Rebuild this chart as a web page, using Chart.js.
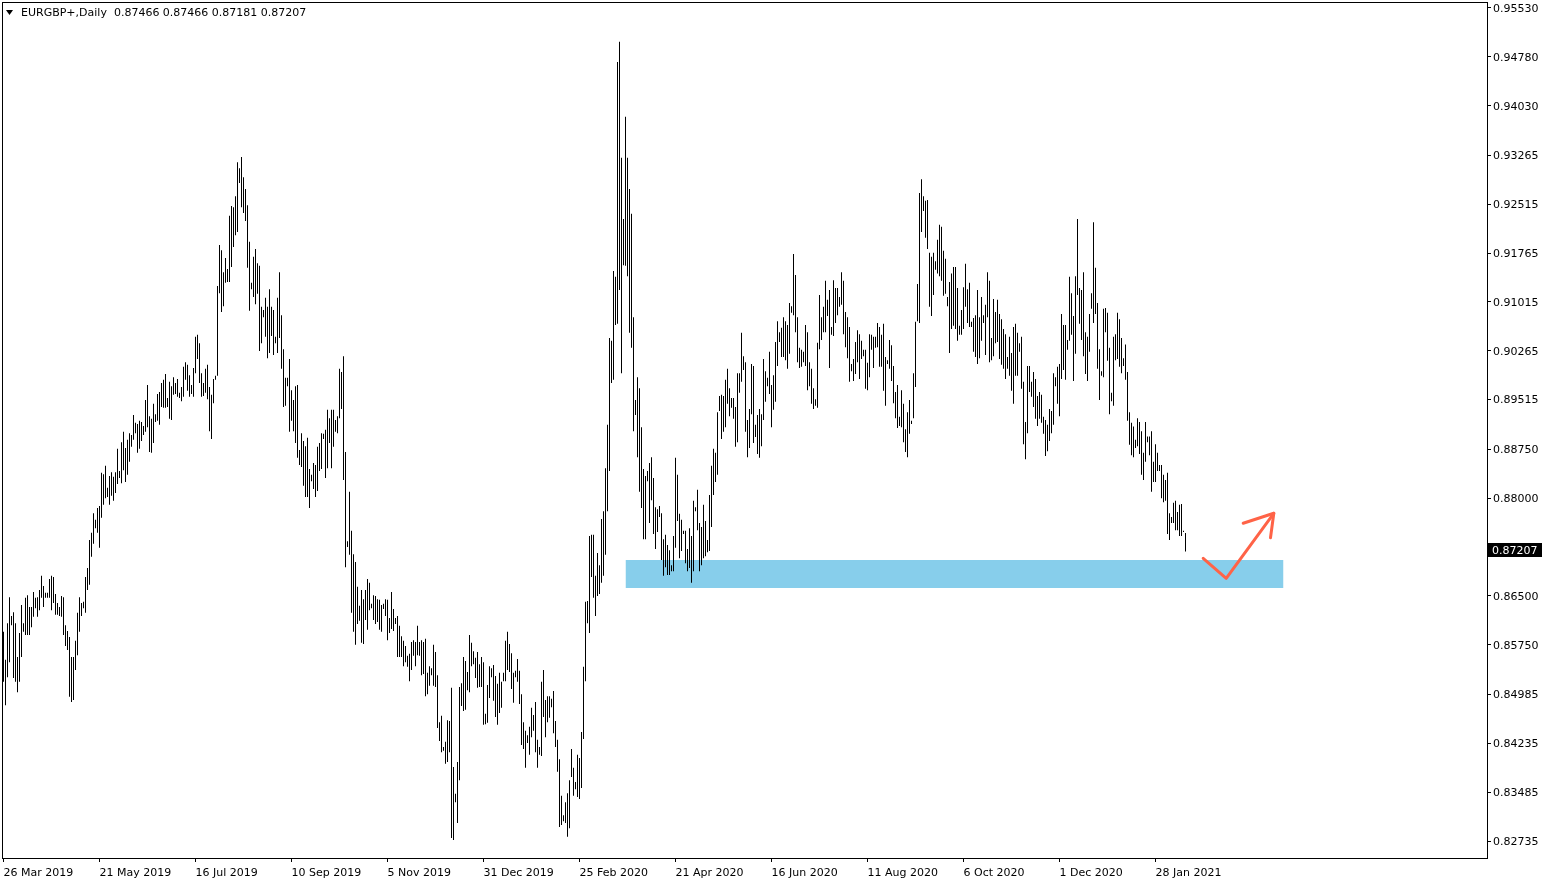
<!DOCTYPE html>
<html>
<head>
<meta charset="utf-8">
<title>EURGBP+,Daily</title>
<script src="https://cdn.jsdelivr.net/npm/chart.js@4.4.0/dist/chart.umd.min.js"></script>
<style>
  html, body { margin: 0; padding: 0; background: #fff; }
</style>
</head>
<body>
<canvas id="chart" width="1550" height="884"></canvas>
<script>
// Daily highs and lows, one entry per bar (26 Mar 2019 onwards)
var highs = [
  0.8595, 0.8552, 0.8608, 0.8648, 0.8619, 0.8625, 0.8608, 0.8556, 0.8593, 0.8636,
  0.8608, 0.8647, 0.8651, 0.8633, 0.8633, 0.8656, 0.8647, 0.8648, 0.8659, 0.8681,
  0.8665, 0.8655, 0.8655, 0.8676, 0.8681, 0.8679, 0.8653, 0.8639, 0.8633, 0.8650,
  0.8648, 0.8605, 0.8596, 0.8587, 0.8556, 0.8556, 0.8581, 0.8624, 0.8648, 0.8639,
  0.8641, 0.8679, 0.8693, 0.8736, 0.8747, 0.8777, 0.8767, 0.8785, 0.8788, 0.8839,
  0.8837, 0.8850, 0.8816, 0.8834, 0.8840, 0.8833, 0.8840, 0.8876, 0.8842, 0.8886,
  0.8902, 0.8877, 0.8890, 0.8900, 0.8897, 0.8928, 0.8916, 0.8914, 0.8919, 0.8917,
  0.8911, 0.8951, 0.8974, 0.8926, 0.8922, 0.8945, 0.8929, 0.8960, 0.8963, 0.8977,
  0.8982, 0.8991, 0.8954, 0.8979, 0.8972, 0.8986, 0.8977, 0.8983, 0.8962, 0.8971,
  0.9002, 0.9009, 0.9005, 0.8989, 0.8974, 0.9000, 0.9048, 0.9051, 0.9038, 0.8992,
  0.8977, 0.8999, 0.9005, 0.8971, 0.8959, 0.8983, 0.8988, 0.9126, 0.9189, 0.9181,
  0.9147, 0.9169, 0.9152, 0.9234, 0.9249, 0.9247, 0.9264, 0.9316, 0.9307, 0.9324,
  0.9293, 0.9275, 0.9250, 0.9194, 0.9131, 0.9171, 0.9183, 0.9161, 0.9157, 0.9094,
  0.9089, 0.9108, 0.9094, 0.9121, 0.9094, 0.9089, 0.9048, 0.9108, 0.9147, 0.9081,
  0.9029, 0.8985, 0.8985, 0.9014, 0.8966, 0.8951, 0.8972, 0.8974, 0.8874, 0.8900,
  0.8888, 0.8880, 0.8893, 0.8845, 0.8836, 0.8854, 0.8851, 0.8879, 0.8885, 0.8900,
  0.8899, 0.8905, 0.8936, 0.8923, 0.8936, 0.8936, 0.8920, 0.8926, 0.8999, 0.8994,
  0.9018, 0.8871, 0.8734, 0.8810, 0.8750, 0.8714, 0.8702, 0.8664, 0.8635, 0.8659,
  0.8645, 0.8659, 0.8676, 0.8670, 0.8638, 0.8651, 0.8650, 0.8645, 0.8644, 0.8636,
  0.8638, 0.8645, 0.8644, 0.8616, 0.8656, 0.8630, 0.8616, 0.8619, 0.8604, 0.8588,
  0.8581, 0.8573, 0.8558, 0.8561, 0.8579, 0.8582, 0.8579, 0.8604, 0.8579, 0.8582,
  0.8579, 0.8584, 0.8532, 0.8542, 0.8539, 0.8575, 0.8564, 0.8528, 0.8456, 0.8466,
  0.8418, 0.8426, 0.8459, 0.8458, 0.8509, 0.8387, 0.8346, 0.8395, 0.8510, 0.8516,
  0.8556, 0.8550, 0.8533, 0.8590, 0.8578, 0.8565, 0.8555, 0.8564, 0.8545, 0.8556,
  0.8548, 0.8469, 0.8513, 0.8542, 0.8539, 0.8544, 0.8527, 0.8515, 0.8532, 0.8518,
  0.8532, 0.8581, 0.8595, 0.8576, 0.8562, 0.8532, 0.8535, 0.8553, 0.8535, 0.8499,
  0.8456, 0.8443, 0.8436, 0.8449, 0.8478, 0.8467, 0.8487, 0.8429, 0.8418, 0.8518,
  0.8536, 0.8490, 0.8496, 0.8496, 0.8492, 0.8504, 0.8458, 0.8429, 0.8399, 0.8343,
  0.8313, 0.8333, 0.8347, 0.8367, 0.8415, 0.8386, 0.8364, 0.8406, 0.8401, 0.8441,
  0.8541, 0.8641, 0.8642, 0.8742, 0.8744, 0.8744, 0.8681, 0.8716, 0.8697, 0.8768,
  0.8780, 0.8846, 0.8913, 0.9046, 0.9042, 0.9149, 0.9140, 0.9470, 0.9501, 0.9323,
  0.9229, 0.9386, 0.9323, 0.9275, 0.9237, 0.9078, 0.8951, 0.8986, 0.8969, 0.8909,
  0.8845, 0.8834, 0.8842, 0.8854, 0.8863, 0.8831, 0.8786, 0.8783, 0.8788, 0.8777,
  0.8737, 0.8744, 0.8728, 0.8720, 0.8697, 0.8742, 0.8862, 0.8836, 0.8776, 0.8767,
  0.8750, 0.8750, 0.8722, 0.8754, 0.8742, 0.8796, 0.8786, 0.8813, 0.8762, 0.8756,
  0.8790, 0.8765, 0.8736, 0.8805, 0.8850, 0.8876, 0.8870, 0.8932, 0.8957, 0.8959,
  0.8957, 0.8982, 0.8999, 0.8969, 0.8954, 0.8954, 0.8940, 0.8992, 0.8992, 0.9054,
  0.9018, 0.9009, 0.8920, 0.8937, 0.9006, 0.9003, 0.8913, 0.8928, 0.8937, 0.8929,
  0.9014, 0.8995, 0.8985, 0.9025, 0.8974, 0.8989, 0.9040, 0.9072, 0.9055, 0.9062,
  0.9078, 0.9072, 0.9066, 0.9100, 0.9095, 0.9175, 0.9143, 0.9078, 0.9031, 0.9028,
  0.9025, 0.9066, 0.9055, 0.9009, 0.8999, 0.8969, 0.8952, 0.9039, 0.9112, 0.9078,
  0.9094, 0.9134, 0.9105, 0.9120, 0.9063, 0.9135, 0.9123, 0.9123, 0.9109, 0.9147,
  0.9134, 0.9086, 0.9078, 0.9063, 0.9006, 0.9014, 0.9040, 0.9058, 0.9052, 0.9042,
  0.9028, 0.9028, 0.9008, 0.9052, 0.9051, 0.9048, 0.9048, 0.9069, 0.9063, 0.9051,
  0.9068, 0.9017, 0.9012, 0.9043, 0.9035, 0.9003, 0.8963, 0.8974, 0.8925, 0.8966,
  0.8945, 0.8906, 0.8932, 0.8951, 0.8919, 0.8992, 0.9071, 0.9129, 0.9269, 0.9290,
  0.9264, 0.9257, 0.9258, 0.9177, 0.9171, 0.9177, 0.9164, 0.9197, 0.9220, 0.9217,
  0.9180, 0.9168, 0.9109, 0.9132, 0.9145, 0.9155, 0.9155, 0.9123, 0.9065, 0.9089,
  0.9124, 0.9160, 0.9121, 0.9131, 0.9071, 0.9077, 0.9081, 0.9120, 0.9078, 0.9109,
  0.9081, 0.9097, 0.9147, 0.9134, 0.9046, 0.9106, 0.9086, 0.9105, 0.9083, 0.9075,
  0.9060, 0.9052, 0.9017, 0.9048, 0.9023, 0.9063, 0.9068, 0.9054, 0.9038, 0.9048,
  0.8979, 0.8917, 0.9003, 0.9003, 0.8979, 0.8994, 0.8983, 0.8957, 0.8963, 0.8959,
  0.8925, 0.8920, 0.8913, 0.8937, 0.8934, 0.8992, 0.8986, 0.9002, 0.9006, 0.9083,
  0.9066, 0.9066, 0.9043, 0.9140, 0.9115, 0.9080, 0.9141, 0.9229, 0.9123, 0.9120,
  0.9147, 0.9055, 0.9048, 0.9083, 0.9115, 0.9224, 0.9154, 0.9100, 0.9029, 0.8995,
  0.9091, 0.9092, 0.9085, 0.9031, 0.8962, 0.9048, 0.9052, 0.9085, 0.9075, 0.9046,
  0.9015, 0.9036, 0.8994, 0.8932, 0.8916, 0.8910, 0.8890, 0.8923, 0.8917, 0.8903,
  0.8870, 0.8917, 0.8895, 0.8895, 0.8903, 0.8856, 0.8883, 0.8870, 0.8851, 0.8851,
  0.8836, 0.8828, 0.8839, 0.8777, 0.8771, 0.8793, 0.8796, 0.8779, 0.8790, 0.8791,
  0.8750, 0.87466
];
var lows = [
  0.8518, 0.8482, 0.8525, 0.8548, 0.8605, 0.8524, 0.8518, 0.8502, 0.8518, 0.8556,
  0.8595, 0.8590, 0.8590, 0.8590, 0.8602, 0.8618, 0.8631, 0.8618, 0.8628, 0.8647,
  0.8633, 0.8647, 0.8647, 0.8647, 0.8628, 0.8639, 0.8621, 0.8621, 0.8619, 0.8618,
  0.8590, 0.8573, 0.8567, 0.8495, 0.8487, 0.8490, 0.8536, 0.8559, 0.8595, 0.8619,
  0.8631, 0.8624, 0.8659, 0.8667, 0.8710, 0.8730, 0.8754, 0.8747, 0.8724, 0.8770,
  0.8790, 0.8800, 0.8802, 0.8790, 0.8804, 0.8796, 0.8808, 0.8822, 0.8831, 0.8823,
  0.8843, 0.8825, 0.8836, 0.8856, 0.8879, 0.8890, 0.8900, 0.8870, 0.8876, 0.8888,
  0.8897, 0.8902, 0.8909, 0.8871, 0.8870, 0.8885, 0.8917, 0.8919, 0.8913, 0.8940,
  0.8939, 0.8939, 0.8940, 0.8922, 0.8920, 0.8959, 0.8960, 0.8956, 0.8954, 0.8949,
  0.8956, 0.8982, 0.8965, 0.8956, 0.8960, 0.8956, 0.8992, 0.9014, 0.8977, 0.8956,
  0.8957, 0.8962, 0.8952, 0.8903, 0.8891, 0.8946, 0.8982, 0.8988, 0.9115, 0.9086,
  0.9095, 0.9131, 0.9132, 0.9132, 0.9155, 0.9186, 0.9204, 0.9209, 0.9284, 0.9247,
  0.9238, 0.9226, 0.9154, 0.9088, 0.9121, 0.9109, 0.9098, 0.9114, 0.9026, 0.9038,
  0.9078, 0.9048, 0.9015, 0.9023, 0.9049, 0.9020, 0.9038, 0.9023, 0.9046, 0.8999,
  0.8940, 0.8942, 0.8972, 0.8902, 0.8919, 0.8903, 0.8885, 0.8862, 0.8851, 0.8848,
  0.8819, 0.8802, 0.8802, 0.8785, 0.8826, 0.8814, 0.8802, 0.8811, 0.8842, 0.8845,
  0.8891, 0.8831, 0.8846, 0.8885, 0.8846, 0.8879, 0.8902, 0.8900, 0.8923, 0.8937,
  0.8828, 0.8694, 0.8725, 0.8713, 0.8624, 0.8595, 0.8575, 0.8607, 0.8612, 0.8578,
  0.8576, 0.8613, 0.8598, 0.8628, 0.8631, 0.8613, 0.8607, 0.8610, 0.8598, 0.8595,
  0.8630, 0.8619, 0.8582, 0.8593, 0.8599, 0.8596, 0.8607, 0.8556, 0.8556, 0.8556,
  0.8542, 0.8548, 0.8541, 0.8519, 0.8536, 0.8558, 0.8542, 0.8559, 0.8558, 0.8528,
  0.8530, 0.8496, 0.8499, 0.8512, 0.8528, 0.8512, 0.8510, 0.8447, 0.8427, 0.8410,
  0.8412, 0.8392, 0.8395, 0.8410, 0.8278, 0.8275, 0.8333, 0.8301, 0.8367, 0.8481,
  0.8473, 0.8475, 0.8505, 0.8502, 0.8542, 0.8545, 0.8524, 0.8509, 0.8510, 0.8510,
  0.8452, 0.8453, 0.8455, 0.8493, 0.8525, 0.8489, 0.8464, 0.8452, 0.8470, 0.8478,
  0.8519, 0.8519, 0.8536, 0.8533, 0.8507, 0.8486, 0.8525, 0.8518, 0.8484, 0.8421,
  0.8415, 0.8386, 0.8424, 0.8406, 0.8433, 0.8443, 0.8410, 0.8386, 0.8406, 0.8404,
  0.8464, 0.8433, 0.8456, 0.8463, 0.8479, 0.8439, 0.8418, 0.8380, 0.8295, 0.8298,
  0.8304, 0.8301, 0.8280, 0.8293, 0.8372, 0.8343, 0.8353, 0.8341, 0.8338, 0.8355,
  0.8430, 0.8519, 0.8608, 0.8593, 0.8679, 0.8647, 0.8619, 0.8650, 0.8653, 0.8670,
  0.8681, 0.8713, 0.8780, 0.8842, 0.8977, 0.8982, 0.9066, 0.9068, 0.9120, 0.8992,
  0.9158, 0.9157, 0.9141, 0.9054, 0.9031, 0.8903, 0.8928, 0.8863, 0.8810, 0.8785,
  0.8737, 0.8737, 0.8826, 0.8762, 0.8797, 0.8745, 0.8722, 0.8748, 0.8771, 0.8705,
  0.8681, 0.8694, 0.8682, 0.8682, 0.8688, 0.8688, 0.8724, 0.8765, 0.8708, 0.8719,
  0.8745, 0.8700, 0.8688, 0.8693, 0.8670, 0.8688, 0.8780, 0.8751, 0.8688, 0.8697,
  0.8708, 0.8711, 0.8717, 0.8719, 0.8756, 0.8805, 0.8825, 0.8836, 0.8934, 0.8891,
  0.8902, 0.8909, 0.8945, 0.8926, 0.8939, 0.8922, 0.8879, 0.8886, 0.8962, 0.8979,
  0.8997, 0.8902, 0.8863, 0.8877, 0.8929, 0.8885, 0.8894, 0.8868, 0.8862, 0.8880,
  0.8920, 0.8948, 0.8972, 0.8960, 0.8909, 0.8936, 0.8948, 0.9003, 0.9040, 0.9017,
  0.9017, 0.9012, 0.8999, 0.9022, 0.9085, 0.9081, 0.9055, 0.9009, 0.9000, 0.9002,
  0.9009, 0.9003, 0.8966, 0.8972, 0.8945, 0.8937, 0.8942, 0.8939, 0.9029, 0.9043,
  0.9055, 0.9055, 0.9080, 0.9000, 0.9051, 0.9049, 0.9069, 0.9081, 0.9094, 0.9097,
  0.9052, 0.9032, 0.9015, 0.8979, 0.8995, 0.8980, 0.8991, 0.9009, 0.8983, 0.9014,
  0.9018, 0.8968, 0.8966, 0.8986, 0.9028, 0.9000, 0.9031, 0.9032, 0.9002, 0.9002,
  0.8965, 0.8942, 0.9006, 0.8999, 0.8980, 0.8946, 0.8923, 0.8908, 0.8911, 0.8909,
  0.8886, 0.8871, 0.8863, 0.8899, 0.8914, 0.8923, 0.8971, 0.9072, 0.9069, 0.9209,
  0.9241, 0.9200, 0.9183, 0.9094, 0.9080, 0.9112, 0.9151, 0.9145, 0.9141, 0.9134,
  0.9111, 0.9114, 0.9095, 0.9023, 0.9060, 0.9065, 0.9060, 0.9042, 0.9051, 0.9051,
  0.9060, 0.9094, 0.9069, 0.9063, 0.9063, 0.9025, 0.9017, 0.9006, 0.9015, 0.9042,
  0.9069, 0.9020, 0.9078, 0.9009, 0.9012, 0.9018, 0.9038, 0.9040, 0.9014, 0.9005,
  0.8999, 0.8983, 0.8999, 0.8988, 0.8965, 0.8945, 0.8988, 0.8988, 0.9025, 0.8968,
  0.8883, 0.8860, 0.8900, 0.8963, 0.8956, 0.8940, 0.8922, 0.8911, 0.8922, 0.8916,
  0.8899, 0.8865, 0.8872, 0.8888, 0.8900, 0.8913, 0.8972, 0.8945, 0.8926, 0.8983,
  0.8997, 0.8982, 0.9028, 0.9042, 0.9051, 0.8980, 0.9022, 0.9112, 0.9068, 0.9043,
  0.9018, 0.8991, 0.8980, 0.9025, 0.9091, 0.9069, 0.9083, 0.8999, 0.8951, 0.8988,
  0.8986, 0.9055, 0.9011, 0.8929, 0.8949, 0.8942, 0.9012, 0.9014, 0.9002, 0.8992,
  0.9003, 0.8982, 0.8919, 0.8882, 0.8866, 0.8863, 0.8877, 0.8880, 0.8868, 0.8836,
  0.8828, 0.8856, 0.8886, 0.8866, 0.8810, 0.8825, 0.8825, 0.8842, 0.8842, 0.8800,
  0.8794, 0.8796, 0.8745, 0.8736, 0.8762, 0.8762, 0.8751, 0.8751, 0.8742, 0.8742,
  0.8748, 0.87181
];

var symbol = 'EURGBP+,Daily';
var lastQuote = [0.87466, 0.87466, 0.87181, 0.87207]; // open high low close of last bar

var priceTicks = [0.95530, 0.94780, 0.94030, 0.93265, 0.92515, 0.91765, 0.91015, 0.90265,
  0.89515, 0.88750, 0.88000, 0.86500, 0.85750, 0.84985, 0.84235, 0.83485, 0.82735];
var dateLabels = ['26 Mar 2019', '21 May 2019', '16 Jul 2019', '10 Sep 2019', '5 Nov 2019',
  '31 Dec 2019', '25 Feb 2020', '21 Apr 2020', '16 Jun 2020', '11 Aug 2020', '6 Oct 2020',
  '1 Dec 2020', '28 Jan 2021'];
var dateEvery = 48; // bars between two date labels

// support zone and the hand drawn arrow (bar number, price)
var zoneX = [311, 640];
var zoneY = [0.86621, 0.87051];
var arrowX = [599.85, 611.35, 635.15];
var arrowY = [0.87077, 0.86770, 0.87769];
var headX = [619.85, 635.15, 633.5];
var headY = [0.87615, 0.87769, 0.87394];

Chart.defaults.font.family = 'DejaVu Sans';
Chart.defaults.font.size = 11;
Chart.defaults.color = '#000';

function pts(xs, ys) {
  return xs.map(function(x, i) { return { x: x, y: ys[i] }; });
}

var bars = highs.map(function(h, i) { return { x: i, y: [lows[i], h] }; });

// frame, header line and the current price box
var mt4Decor = {
  id: 'mt4Decor',
  afterDraw: function(chart) {
    var ctx = chart.ctx;
    var a = chart.chartArea;
    ctx.save();
    ctx.strokeStyle = '#000';
    ctx.lineWidth = 1;
    ctx.strokeRect(a.left + 0.5, a.top + 0.5, a.right - a.left, a.bottom - a.top);

    ctx.fillStyle = '#000';
    ctx.beginPath();
    ctx.moveTo(6, 10);
    ctx.lineTo(13, 10);
    ctx.lineTo(9.5, 15);
    ctx.closePath();
    ctx.fill();
    ctx.font = '11px "DejaVu Sans"';
    ctx.textBaseline = 'middle';
    ctx.fillText(symbol + '  ' + lastQuote.map(function(v) { return v.toFixed(5); }).join(' '), 21, 13);

    var y = Math.round(chart.scales.y.getPixelForValue(lastQuote[3]));
    ctx.fillRect(a.right + 1, y - 7, 54, 14);
    ctx.fillStyle = '#fff';
    ctx.fillText(lastQuote[3].toFixed(5), a.right + 5, y + 1);
    ctx.restore();
  }
};

new Chart(document.getElementById('chart'), {
  type: 'bar',
  data: {
    datasets: [{
      type: 'line',
      data: pts(zoneX, [zoneY[1], zoneY[1]]),
      fill: { value: zoneY[0] },
      backgroundColor: 'rgb(135, 206, 235)',
      borderWidth: 0,
      pointRadius: 0,
      order: 3
    }, {
      data: bars,
      backgroundColor: '#000',
      barThickness: 1,
      borderWidth: 0,
      inflateAmount: 0,
      order: 2
    }, {
      type: 'line',
      data: pts(arrowX, arrowY),
      borderColor: 'tomato',
      borderWidth: 3,
      borderJoinStyle: 'round',
      borderCapStyle: 'round',
      pointRadius: 0,
      fill: false,
      order: 1
    }, {
      type: 'line',
      data: pts(headX, headY),
      borderColor: 'tomato',
      borderWidth: 3,
      borderJoinStyle: 'round',
      borderCapStyle: 'round',
      pointRadius: 0,
      fill: false,
      order: 0
    }]
  },
  options: {
    responsive: false,
    animation: false,
    devicePixelRatio: 1,
    layout: { padding: { left: 2, top: 2, right: 0, bottom: 0 } },
    plugins: {
      legend: { display: false },
      tooltip: { enabled: false }
    },
    scales: {
      x: {
        type: 'linear',
        min: -0.75,
        max: 741.75,
        bounds: 'data',
        offset: false,
        afterBuildTicks: function(s) {
          s.ticks = dateLabels.map(function(d, i) { return { value: i * dateEvery }; });
        },
        afterFit: function(s) {
          s.height = 26;
          s.paddingLeft = 0;
          s.paddingRight = 0;
        },
        ticks: {
          autoSkip: false,
          maxRotation: 0,
          align: 'start',
          padding: 5,
          callback: function(v, i) { return dateLabels[i]; }
        },
        grid: { offset: false, drawOnChartArea: false, color: '#000', tickLength: 4 },
        border: { color: '#000' }
      },
      y: {
        position: 'right',
        min: 0.82474,
        max: 0.95622,
        bounds: 'data',
        afterBuildTicks: function(s) {
          s.ticks = priceTicks.map(function(v) { return { value: v }; });
        },
        afterFit: function(s) {
          s.width = 63;
          s.paddingTop = 0;
          s.paddingBottom = 0;
        },
        ticks: {
          autoSkip: false,
          padding: 2,
          labelOffset: 1,
          callback: function(v) { return Number(v).toFixed(5); }
        },
        grid: { drawOnChartArea: false, color: '#000', tickLength: 4 },
        border: { color: '#000' }
      }
    }
  },
  plugins: [mt4Decor]
});
</script>
</body>
</html>
